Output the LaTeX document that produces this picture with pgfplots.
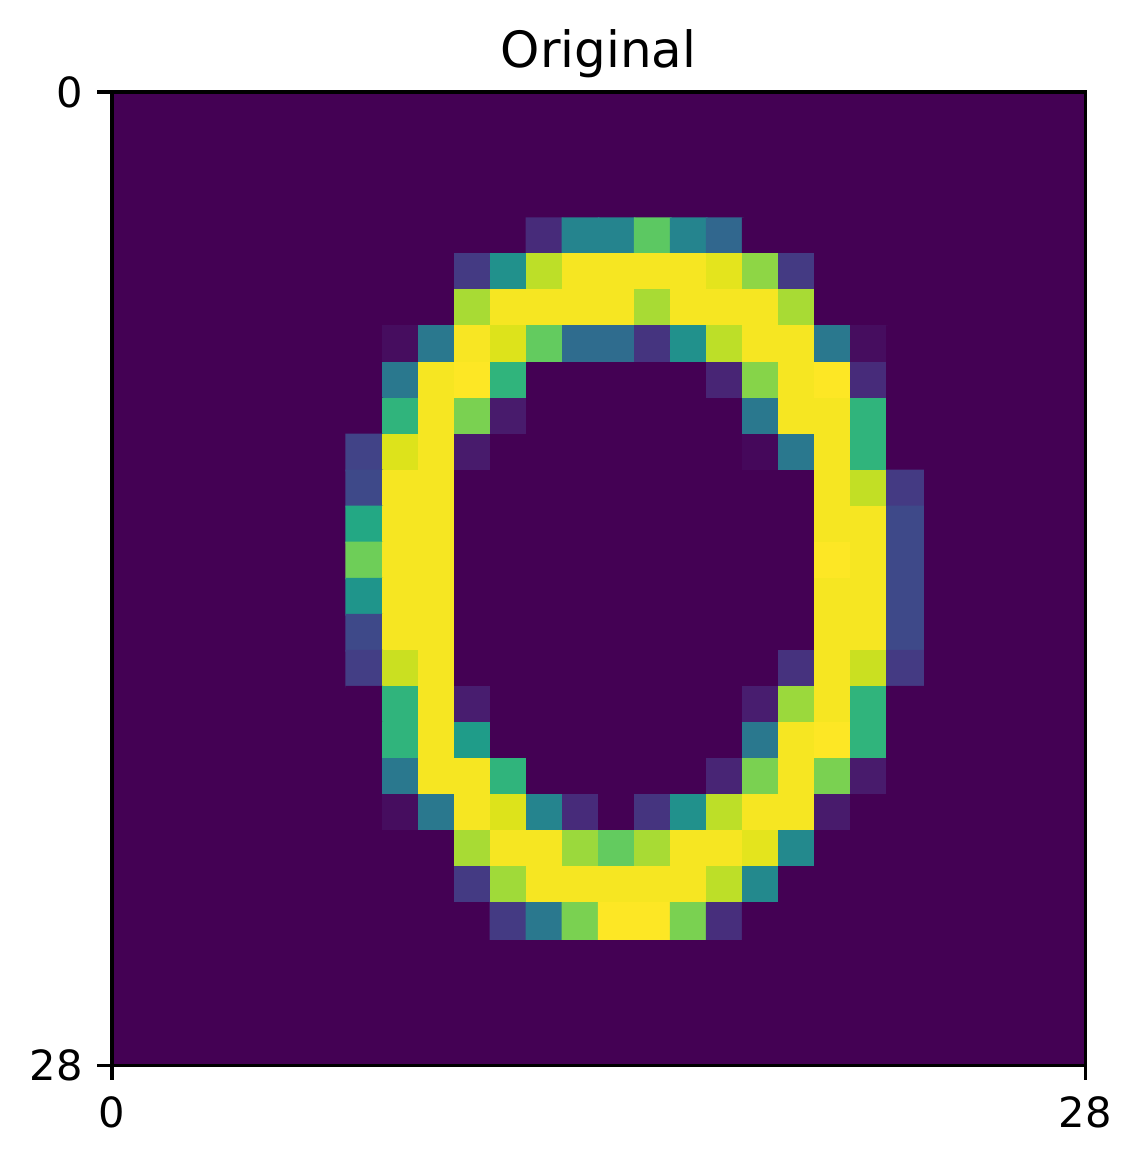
\documentclass[border=0pt]{standalone}
\usepackage{fontspec}
\setmainfont{DejaVu Sans}
\usepackage{pgfplots}
\pgfplotsset{compat=1.18}
\definecolor{vir0}{HTML}{440154}
\begin{document}
\begin{tikzpicture}
\begin{axis}[
  at={(0,0)}, anchor=south west,
  scale only axis, width=233.8pt, height=233.8pt,
  xmin=0, xmax=27, ymin=0, ymax=27, y dir=reverse,
  axis background/.style={fill=vir0},
  colormap/viridis, point meta min=0, point meta max=255,
  xtick={0,27}, xticklabels={0,28},
  ytick={0,27}, yticklabels={0,28},
  xtick pos=bottom, ytick pos=left,
  tick align=outside, major tick length=3.5pt,
  every tick/.style={black, line width=0.8pt},
  axis line style={black, line width=0.8pt},
  tick label style={font=\fontsize{10}{12}\selectfont},
  xticklabel style={yshift=-0.5pt},
  title={Original},
  title style={font=\fontsize{12}{14}\selectfont, at={(0.5,1)}, anchor=base, yshift=0pt},
]
\addplot[matrix plot*, mesh/cols=16, mesh/rows=20, point meta=explicit]
 table[row sep=\\, meta=c] {
x y c\\
7 4 0\\ 8 4 0\\ 9 4 0\\ 10 4 0\\ 11 4 0\\ 12 4 31\\ 13 4 115\\ 14 4 115\\ 15 4 191\\ 16 4 115\\ 17 4 84\\ 18 4 0\\ 19 4 0\\ 20 4 0\\ 21 4 0\\ 22 4 0\\
7 5 0\\ 8 5 0\\ 9 5 0\\ 10 5 43\\ 11 5 128\\ 12 5 230\\ 13 5 252\\ 14 5 252\\ 15 5 252\\ 16 5 252\\ 17 5 245\\ 18 5 212\\ 19 5 43\\ 20 5 0\\ 21 5 0\\ 22 5 0\\
7 6 0\\ 8 6 0\\ 9 6 0\\ 10 6 222\\ 11 6 252\\ 12 6 252\\ 13 6 252\\ 14 6 252\\ 15 6 222\\ 16 6 252\\ 17 6 252\\ 18 6 252\\ 19 6 222\\ 20 6 0\\ 21 6 0\\ 22 6 0\\
7 7 0\\ 8 7 8\\ 9 7 102\\ 10 7 253\\ 11 7 242\\ 12 7 194\\ 13 7 89\\ 14 7 89\\ 15 7 38\\ 16 7 128\\ 17 7 230\\ 18 7 252\\ 19 7 252\\ 20 7 102\\ 21 7 8\\ 22 7 0\\
7 8 0\\ 8 8 102\\ 9 8 252\\ 10 8 255\\ 11 8 166\\ 12 8 0\\ 13 8 0\\ 14 8 0\\ 15 8 0\\ 16 8 0\\ 17 8 26\\ 18 8 209\\ 19 8 252\\ 20 8 255\\ 21 8 31\\ 22 8 0\\
7 9 0\\ 8 9 166\\ 9 9 252\\ 10 9 204\\ 11 9 18\\ 12 9 0\\ 13 9 0\\ 14 9 0\\ 15 9 0\\ 16 9 0\\ 17 9 0\\ 18 9 102\\ 19 9 252\\ 20 9 252\\ 21 9 166\\ 22 9 0\\
7 10 51\\ 8 10 242\\ 9 10 252\\ 10 10 18\\ 11 10 0\\ 12 10 0\\ 13 10 0\\ 14 10 0\\ 15 10 0\\ 16 10 0\\ 17 10 0\\ 18 10 5\\ 19 10 102\\ 20 10 252\\ 21 10 166\\ 22 10 0\\
7 11 56\\ 8 11 252\\ 9 11 252\\ 10 11 0\\ 11 11 0\\ 12 11 0\\ 13 11 0\\ 14 11 0\\ 15 11 0\\ 16 11 0\\ 17 11 0\\ 18 11 0\\ 19 11 0\\ 20 11 252\\ 21 11 232\\ 22 11 43\\
7 12 153\\ 8 12 252\\ 9 12 252\\ 10 12 0\\ 11 12 0\\ 12 12 0\\ 13 12 0\\ 14 12 0\\ 15 12 0\\ 16 12 0\\ 17 12 0\\ 18 12 0\\ 19 12 0\\ 20 12 252\\ 21 12 252\\ 22 12 56\\
7 13 199\\ 8 13 252\\ 9 13 252\\ 10 13 0\\ 11 13 0\\ 12 13 0\\ 13 13 0\\ 14 13 0\\ 15 13 0\\ 16 13 0\\ 17 13 0\\ 18 13 0\\ 19 13 0\\ 20 13 255\\ 21 13 252\\ 22 13 56\\
7 14 133\\ 8 14 252\\ 9 14 252\\ 10 14 0\\ 11 14 0\\ 12 14 0\\ 13 14 0\\ 14 14 0\\ 15 14 0\\ 16 14 0\\ 17 14 0\\ 18 14 0\\ 19 14 0\\ 20 14 252\\ 21 14 252\\ 22 14 56\\
7 15 56\\ 8 15 252\\ 9 15 252\\ 10 15 0\\ 11 15 0\\ 12 15 0\\ 13 15 0\\ 14 15 0\\ 15 15 0\\ 16 15 0\\ 17 15 0\\ 18 15 0\\ 19 15 0\\ 20 15 252\\ 21 15 252\\ 22 15 56\\
7 16 46\\ 8 16 235\\ 9 16 252\\ 10 16 0\\ 11 16 0\\ 12 16 0\\ 13 16 0\\ 14 16 0\\ 15 16 0\\ 16 16 0\\ 17 16 0\\ 18 16 0\\ 19 16 36\\ 20 16 252\\ 21 16 235\\ 22 16 43\\
7 17 0\\ 8 17 166\\ 9 17 252\\ 10 17 20\\ 11 17 0\\ 12 17 0\\ 13 17 0\\ 14 17 0\\ 15 17 0\\ 16 17 0\\ 17 17 0\\ 18 17 20\\ 19 17 217\\ 20 17 252\\ 21 17 166\\ 22 17 0\\
7 18 0\\ 8 18 166\\ 9 18 252\\ 10 18 140\\ 11 18 0\\ 12 18 0\\ 13 18 0\\ 14 18 0\\ 15 18 0\\ 16 18 0\\ 17 18 0\\ 18 18 102\\ 19 18 252\\ 20 18 255\\ 21 18 166\\ 22 18 0\\
7 19 0\\ 8 19 102\\ 9 19 252\\ 10 19 252\\ 11 19 166\\ 12 19 0\\ 13 19 0\\ 14 19 0\\ 15 19 0\\ 16 19 0\\ 17 19 26\\ 18 19 204\\ 19 19 252\\ 20 19 204\\ 21 19 18\\ 22 19 0\\
7 20 0\\ 8 20 8\\ 9 20 102\\ 10 20 252\\ 11 20 242\\ 12 20 115\\ 13 20 31\\ 14 20 0\\ 15 20 38\\ 16 20 128\\ 17 20 230\\ 18 20 252\\ 19 20 252\\ 20 20 18\\ 21 20 0\\ 22 20 0\\
7 21 0\\ 8 21 0\\ 9 21 0\\ 10 21 222\\ 11 21 252\\ 12 21 252\\ 13 21 217\\ 14 21 194\\ 15 21 222\\ 16 21 252\\ 17 21 252\\ 18 21 245\\ 19 21 120\\ 20 21 0\\ 21 21 0\\ 22 21 0\\
7 22 0\\ 8 22 0\\ 9 22 0\\ 10 22 43\\ 11 22 219\\ 12 22 252\\ 13 22 252\\ 14 22 252\\ 15 22 252\\ 16 22 252\\ 17 22 230\\ 18 22 120\\ 19 22 0\\ 20 22 0\\ 21 22 0\\ 22 22 0\\
7 23 0\\ 8 23 0\\ 9 23 0\\ 10 23 0\\ 11 23 43\\ 12 23 102\\ 13 23 204\\ 14 23 255\\ 15 23 255\\ 16 23 204\\ 17 23 33\\ 18 23 0\\ 19 23 0\\ 20 23 0\\ 21 23 0\\ 22 23 0\\
};
\end{axis}
\pgfresetboundingbox
\path (-26.9pt,-24.2pt) rectangle (247.0pt,255.9pt);
\end{tikzpicture}
\end{document}
